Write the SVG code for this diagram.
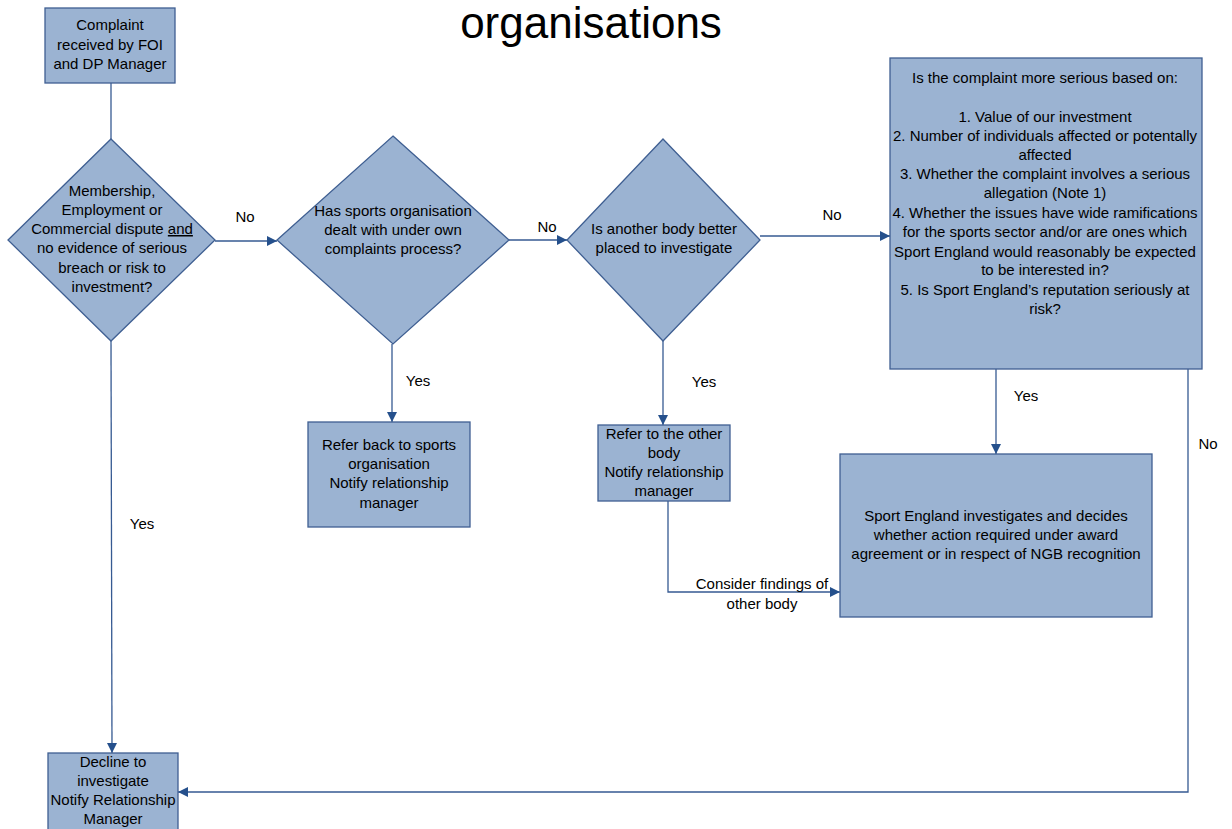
<svg xmlns="http://www.w3.org/2000/svg" width="1232" height="829" viewBox="0 0 1232 829">
<style>
.n{fill:#9BB3D2;stroke:#3F5F92;stroke-width:1.3}
.t{font-family:"Liberation Sans",Arial,sans-serif;font-size:15px;fill:#000;text-anchor:middle}
.c{fill:none;stroke:#365A92;stroke-width:1.3}
.l{font-family:"Liberation Sans",Arial,sans-serif;font-size:15px;fill:#000;text-anchor:middle}
</style>
<defs>
<marker id="a" viewBox="0 0 10 10" refX="10" refY="5" markerWidth="10" markerHeight="10" markerUnits="userSpaceOnUse" orient="auto">
<path d="M0,0 L10,5 L0,10 z" fill="#25508C"/>
</marker>
</defs>
<rect width="1232" height="829" fill="#fff"/>
<text x="591" y="38" style="font-family:'Liberation Sans',Arial,sans-serif;font-size:44px;text-anchor:middle">organisations</text>

<g id="connectors">
<path class="c" d="M111,83 V139"/>
<path class="c" d="M215,241 H277" marker-end="url(#a)"/>
<path class="c" d="M509,240 H567" marker-end="url(#a)"/>
<path class="c" d="M760,236 H890" marker-end="url(#a)"/>
<path class="c" d="M392,344 V422" marker-end="url(#a)"/>
<path class="c" d="M663,341 V425" marker-end="url(#a)"/>
<path class="c" d="M996,369 V454" marker-end="url(#a)"/>
<path class="c" d="M668,501 V592 H840" marker-end="url(#a)"/>
<path class="c" d="M111,341 L112,753" marker-end="url(#a)"/>
<path class="c" d="M1188,366 V792 H178" marker-end="url(#a)"/>
<text class="l" x="245" y="222">No</text>
<text class="l" x="547" y="232">No</text>
<text class="l" x="832" y="220">No</text>
<text class="l" x="418" y="386">Yes</text>
<text class="l" x="704" y="387">Yes</text>
<text class="l" x="1026" y="401">Yes</text>
<text class="l" x="142" y="529">Yes</text>
<text class="l" x="1208" y="449">No</text>
<text class="l" x="762" y="589">Consider findings of</text>
<text class="l" x="762" y="609">other body</text>
</g>

<g id="start">
<rect class="n" x="45" y="8" width="130" height="75"/>
<text class="t" x="110" y="30">Complaint</text>
<text class="t" x="110" y="50">received by FOI</text>
<text class="t" x="110" y="69">and DP Manager</text>
</g>

<g id="d1">
<polygon class="n" points="111,139 215,240 111,341 8,240"/>
<text class="t" x="112" y="196">Membership,</text>
<text class="t" x="112" y="215">Employment or</text>
<text class="t" x="112" y="234">Commercial dispute <tspan text-decoration="underline">and</tspan></text>
<text class="t" x="112" y="253">no evidence of serious</text>
<text class="t" x="112" y="273">breach or risk to</text>
<text class="t" x="112" y="292">investment?</text>
</g>

<g id="d2">
<polygon class="n" points="393,136 509,240 393,344 277,240"/>
<text class="t" x="393" y="216">Has sports organisation</text>
<text class="t" x="393" y="235">dealt with under own</text>
<text class="t" x="393" y="254">complaints process?</text>
</g>

<g id="d3">
<polygon class="n" points="663,139 760,240 663,341 567,240"/>
<text class="t" x="664" y="234">Is another body better</text>
<text class="t" x="664" y="253">placed to investigate</text>
</g>

<g id="serious">
<rect class="n" x="890" y="58" width="312" height="311"/>
<text class="t" x="1045" y="83">Is the complaint more serious based on:</text>
<text class="t" x="1045" y="122">1. Value of our investment</text>
<text class="t" x="1045" y="141">2. Number of individuals affected or potentally</text>
<text class="t" x="1045" y="160">affected</text>
<text class="t" x="1045" y="179">3. Whether the complaint involves a serious</text>
<text class="t" x="1045" y="198">allegation (Note 1)</text>
<text class="t" x="1045" y="218">4. Whether the issues have wide ramifications</text>
<text class="t" x="1045" y="237">for the sports sector and/or are ones which</text>
<text class="t" x="1045" y="257">Sport England would reasonably be expected</text>
<text class="t" x="1045" y="275">to be interested in?</text>
<text class="t" x="1045" y="295">5. Is Sport England’s reputation seriously at</text>
<text class="t" x="1045" y="314">risk?</text>
</g>

<g id="referback">
<rect class="n" x="308" y="422" width="162" height="105"/>
<text class="t" x="389" y="450">Refer back to sports</text>
<text class="t" x="389" y="469">organisation</text>
<text class="t" x="389" y="488">Notify relationship</text>
<text class="t" x="389" y="508">manager</text>
</g>

<g id="referother">
<rect class="n" x="598" y="425" width="132" height="76"/>
<text class="t" x="664" y="439">Refer to the other</text>
<text class="t" x="664" y="458">body</text>
<text class="t" x="664" y="477">Notify relationship</text>
<text class="t" x="664" y="496">manager</text>
</g>

<g id="investigate">
<rect class="n" x="840" y="454" width="312" height="163"/>
<text class="t" x="996" y="521">Sport England investigates and decides</text>
<text class="t" x="996" y="540">whether action required under award</text>
<text class="t" x="996" y="559">agreement or in respect of NGB recognition</text>
</g>

<g id="decline">
<rect class="n" x="48" y="753" width="130" height="90"/>
<text class="t" x="113" y="767">Decline to</text>
<text class="t" x="113" y="786">investigate</text>
<text class="t" x="113" y="805">Notify Relationship</text>
<text class="t" x="113" y="824">Manager</text>
</g>
</svg>
